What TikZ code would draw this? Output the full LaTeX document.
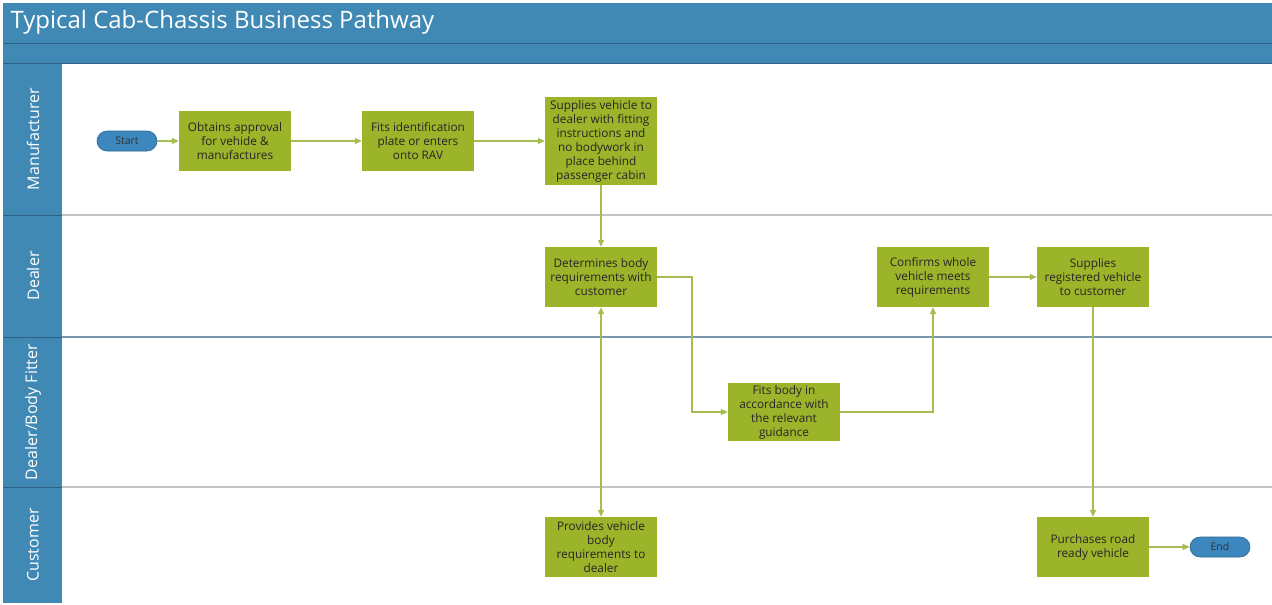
\documentclass[tikz,border=0pt]{standalone}
\usepackage{fontspec}
\setmainfont{Open Sans}
\usetikzlibrary{positioning,arrows.meta,calc}
\definecolor{hdrblue}{RGB}{64,137,180}
\definecolor{hdrline}{RGB}{44,98,132}
\definecolor{boxgreen}{RGB}{155,180,42}
\definecolor{flowgreen}{RGB}{165,188,80}
\definecolor{lanegray}{RGB}{192,196,200}
\definecolor{laneblue}{RGB}{120,150,175}
\definecolor{pillblue}{RGB}{60,135,190}
\tikzset{
  >={Triangle[length=7pt,width=6pt]},
  stepbox/.style={rectangle,fill=boxgreen,minimum width=112pt,minimum height=60pt,
    align=center,inner sep=2pt,text=black!85,
    font=\fontsize{11.8}{14}\selectfont},
  pill/.style={rectangle,rounded corners=10pt,fill=pillblue,draw=pillblue!75!black,
    line width=0.6pt,minimum width=60pt,minimum height=20pt,inner sep=1pt,
    text=black!80,font=\fontsize{10.5}{11}\selectfont},
  flow/.style={->,draw=flowgreen,line width=1.1pt},
  lanelbl/.style={rotate=90,text=white,font=\fontsize{16}{17}\selectfont},
  lanesep/.style={line width=1.2pt},
}
\begin{document}
\begin{tikzpicture}[x=1pt,y=-1pt]
  \useasboundingbox (0,0) rectangle (1272,605);
  \fill[white] (0,0) rectangle (1272,605);
  % header and lane column
  \fill[hdrblue] (3,3) rectangle (1272,63);
  \fill[hdrblue] (3,63) rectangle (62,603);
  \draw[hdrline,line width=1pt] (3,43) -- (1272,43);
  \draw[hdrline,line width=1pt] (3,63) -- (1272,63);
  \node[anchor=west,text=white,font=\fontsize{24}{26}\selectfont] (title) at (7,22)
    {Typical Cab-Chassis Business Pathway};
  % lane separators
  \draw[lanesep,lanegray] (62,215) -- (1272,215);
  \draw[lanesep,laneblue] (62,337) -- (1272,337);
  \draw[lanesep,lanegray] (62,487) -- (1272,487);
  \foreach \y in {215,337,487}
    \draw[hdrline,line width=0.8pt] (3,\y) -- (62,\y);
  \node[lanelbl] (lmanu) at (33,139) {Manufacturer};
  \node[lanelbl] (ldeal) at (33,276) {Dealer};
  \node[lanelbl] (lfit) at (33,412) {Dealer/Body Fitter};
  \node[lanelbl] (lcust) at (33,545) {Customer};
  % steps
  \node[pill] (start) at (127,141) {Start};
  \node[stepbox] (obtain) at (235,141) {Obtains approval\\for vehide \&\\manufactures};
  \node[stepbox] (fitid) at (418,141) {Fits identification\\plate or enters\\onto RAV};
  \node[stepbox,minimum height=88pt] (supply) at (601,141)
    {Supplies vehicle to\\dealer with fitting\\instructions and\\no bodywork in\\place behind\\passenger cabin};
  \node[stepbox] (determine) at (601,277) {Determines body\\requirements with\\customer};
  \node[stepbox] (confirm) at (933,277) {Confirms whole\\vehicle meets\\requirements};
  \node[stepbox] (supplyreg) at (1093,277) {Supplies\\registered vehicle\\to customer};
  \node[stepbox,minimum height=58pt] (fitbody) at (784,412)
    {Fits body in\\accordance with\\the relevant\\guidance};
  \node[stepbox] (provide) at (601,547) {Provides vehicle\\body\\requirements to\\dealer};
  \node[stepbox] (purchase) at (1093,547) {Purchases road\\ready vehicle};
  \node[pill] (finish) at (1220,547) {End};
  \coordinate (bend) at (692,277);
  % connectors
  \draw[flow] (start) -- (obtain);
  \draw[flow] (obtain) -- (fitid);
  \draw[flow] (fitid) -- (supply);
  \draw[flow] (supply) -- (determine);
  \draw[flow,<->] (determine) -- (provide);
  \draw[flow] (determine.east) -- (bend) |- (fitbody.west);
  \draw[flow] (fitbody.east) -| (confirm.south);
  \draw[flow] (confirm) -- (supplyreg);
  \draw[flow] (supplyreg) -- (purchase);
  \draw[flow] (purchase) -- (finish);
\end{tikzpicture}
\end{document}
